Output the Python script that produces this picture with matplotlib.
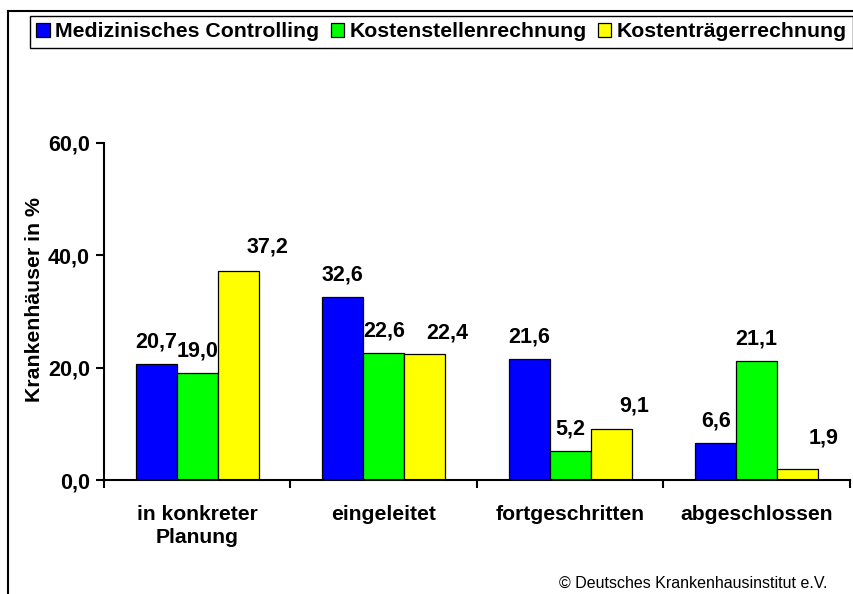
import numpy as np
import matplotlib.pyplot as plt
from matplotlib.lines import Line2D

plt.rcParams["font.family"] = ["Liberation Sans", "DejaVu Sans"]

categories = ["in konkreter\nPlanung", "eingeleitet", "fortgeschritten", "abgeschlossen"]
series_names = ["Medizinisches Controlling", "Kostenstellenrechnung", "Kostenträgerrechnung"]
controlling = [20.7, 32.6, 21.6, 6.6]
kostenstellen = [19.0, 22.6, 5.2, 21.1]
kostentraeger = [37.2, 22.4, 9.1, 1.9]
yticks = [0, 20, 40, 60]

series = [controlling, kostenstellen, kostentraeger]
colors = ["#0000FF", "#00FF00", "#FFFF00"]

# label nudges in pixels (dx, dy above bar top), Excel-style placement
label_shift = [
    [(0, 22), (0, 22), (0, 22), (0, 22)],
    [(0, 22), (0, 22), (0, 22), (0, 22)],
    [(29, 24), (22, 21), (23, 23), (26, 31)],
]

W, H = 854, 594
fig = plt.figure(figsize=(W / 100, H / 100), dpi=100)
ax = fig.add_axes([104 / W, (H - 480) / H, (850 - 104) / W, (480 - 143) / H])

x = np.arange(len(categories))
bw = 0.22
for i, (vals, col) in enumerate(zip(series, colors)):
    pos = x + (i - 1) * bw
    ax.bar(pos, vals, bw, color=col, edgecolor="black", linewidth=0.9,
           label=series_names[i], zorder=2)
    for j, (p, v) in enumerate(zip(pos, vals)):
        dx, dy = label_shift[i][j]
        ax.annotate(f"{v:.1f}".replace(".", ","), (p, v),
                    xytext=(dx, dy), textcoords="offset pixels",
                    ha="center", va="center", fontsize=15.5, fontweight="bold")

ax.set_xlim(-0.5, len(categories) - 0.5)
ax.set_ylim(0, 60)
ax.set_yticks(yticks)
ax.set_yticklabels([f"{t:.1f}".replace(".", ",") for t in yticks],
                   fontsize=15.5, fontweight="bold")
ax.set_xticks(x)
ax.set_xticklabels(categories, fontsize=15.2, fontweight="bold", linespacing=1.25)
ax.set_xticks(np.arange(len(categories) + 1) - 0.5, minor=True)
ax.tick_params(axis="x", which="major", length=0, pad=18)
ax.tick_params(axis="x", which="minor", length=6, width=1.5, direction="out")
ax.tick_params(axis="y", length=6, width=1.5, direction="out", pad=4)

for s in ["top", "right"]:
    ax.spines[s].set_visible(False)
for s in ["left", "bottom"]:
    ax.spines[s].set_linewidth(1.5)

ax.set_ylabel("Krankenhäuser in %", fontsize=15.3, fontweight="bold")
ax.yaxis.set_label_coords(-60 / 746, 0.534)

fig.legend(loc="upper left", bbox_to_anchor=(30 / W, 1 - 16 / H), ncol=3,
           frameon=True, fancybox=False, edgecolor="black", framealpha=1,
           prop={"weight": "bold", "size": 15.3}, handlelength=0.62,
           handleheight=0.62, handletextpad=0.25, columnspacing=0.55,
           borderpad=0.3, borderaxespad=0)

# outer frame (left and top edges)
fig.add_artist(Line2D([8 / W, 8 / W], [0, 1 - 11 / H], color="black", lw=1.5,
                      transform=fig.transFigure))
fig.add_artist(Line2D([8 / W, 1], [1 - 11 / H, 1 - 11 / H], color="black", lw=1.5,
                      transform=fig.transFigure))

fig.text(828 / W, 1 - 583 / H, "© Deutsches Krankenhausinstitut e.V.",
         ha="right", va="center", fontsize=11.5)

fig.savefig("out.png", dpi=100)
